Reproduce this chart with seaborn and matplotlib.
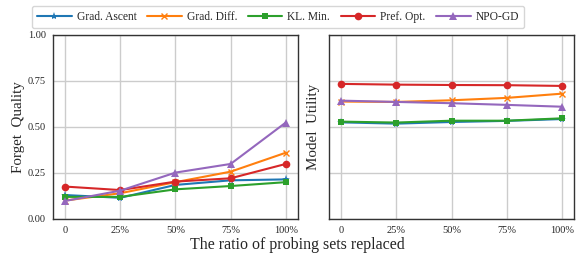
import matplotlib
matplotlib.use("Agg")
import matplotlib.pyplot as plt
import seaborn as sns
import pandas as pd

ratios = ["0", "25%", "50%", "75%", "100%"]
methods = ["Grad. Ascent", "Grad. Diff.", "KL. Min.", "Pref. Opt.", "NPO-GD"]

forget_ga = [0.130, 0.115, 0.185, 0.210, 0.215]
forget_gd = [0.100, 0.140, 0.200, 0.257, 0.360]
forget_kl = [0.120, 0.120, 0.161, 0.179, 0.200]
forget_po = [0.176, 0.157, 0.203, 0.221, 0.299]
forget_npo = [0.098, 0.154, 0.252, 0.299, 0.524]

util_ga = [0.525, 0.518, 0.527, 0.533, 0.543]
util_gd = [0.638, 0.636, 0.645, 0.658, 0.681]
util_kl = [0.529, 0.524, 0.534, 0.534, 0.547]
util_po = [0.734, 0.730, 0.728, 0.727, 0.723]
util_npo = [0.643, 0.636, 0.629, 0.620, 0.610]

colors = ["#1f77b4", "#ff7f0e", "#2ca02c", "#d62728", "#9467bd"]

def build(series):
    rows = []
    for m, vals in zip(methods, series):
        for i, v in enumerate(vals):
            rows.append({"x": i, "value": v, "Method": m})
    return pd.DataFrame(rows)

df_f = build([forget_ga, forget_gd, forget_kl, forget_po, forget_npo])
df_u = build([util_ga, util_gd, util_kl, util_po, util_npo])

sns.set_theme(style="whitegrid")
plt.rcParams["font.family"] = ["Liberation Serif", "DejaVu Serif"]
plt.rcParams["axes.edgecolor"] = "#333333"
plt.rcParams["grid.color"] = "#cccccc"

fig = plt.figure(figsize=(5.83, 2.57), dpi=100)
ax1 = fig.add_axes([0.091, 0.148, 0.420, 0.716])
ax2 = fig.add_axes([0.564, 0.148, 0.421, 0.716])

mk = {"Grad. Ascent": "*", "Grad. Diff.": "x", "KL. Min.": "s", "Pref. Opt.": "o", "NPO-GD": "^"}
ms = {"Grad. Ascent": 6, "Grad. Diff.": 5, "KL. Min.": 5, "Pref. Opt.": 5.5, "NPO-GD": 5.5}
pal = dict(zip(methods, colors))

for ax, df, lab in [(ax1, df_f, "Forget  Quality"), (ax2, df_u, "Model  Utility")]:
    for m in methods:
        sub = df[df["Method"] == m]
        sns.lineplot(data=sub, x="x", y="value", ax=ax, color=pal[m], marker=mk[m],
                     markersize=ms[m], markeredgewidth=1.0 if m == "Grad. Diff." else 0,
                     markeredgecolor=pal[m], linewidth=1.5, label=m, legend=False)
    ax.set_xlim(-0.22, 4.22)
    ax.set_ylim(0, 1.0)
    ax.set_xticks(range(5))
    ax.set_xticklabels(ratios)
    ax.set_yticks([0, 0.25, 0.5, 0.75, 1.0])
    ax.set_xlabel("")
    ax.set_ylabel(lab, fontsize=10.8, labelpad=2)
    ax.tick_params(axis="both", labelsize=7.5, length=3, color="#333333", pad=2)
    for s in ax.spines.values():
        s.set_linewidth(1.0)
        s.set_color("#333333")
    ax.grid(True, color="#cccccc", linewidth=1.0)

ax1.set_yticklabels(["0.00", "0.25", "0.50", "0.75", "1.00"])
ax2.set_yticklabels([])
ax2.yaxis.labelpad = 1

handles, labels = ax1.get_legend_handles_labels()
fig.legend(handles, labels, loc="upper center", bbox_to_anchor=(0.477, 1.0), ncol=5,
           fontsize=8.3, frameon=True, handlelength=3.0, columnspacing=0.9,
           handletextpad=0.45, borderpad=0.45, edgecolor="#cccccc", fancybox=True)

fig.text(0.51, 0.015, "The ratio of probing sets replaced", ha="center", va="bottom", fontsize=11.5)

fig.savefig("out.png", dpi=100)
